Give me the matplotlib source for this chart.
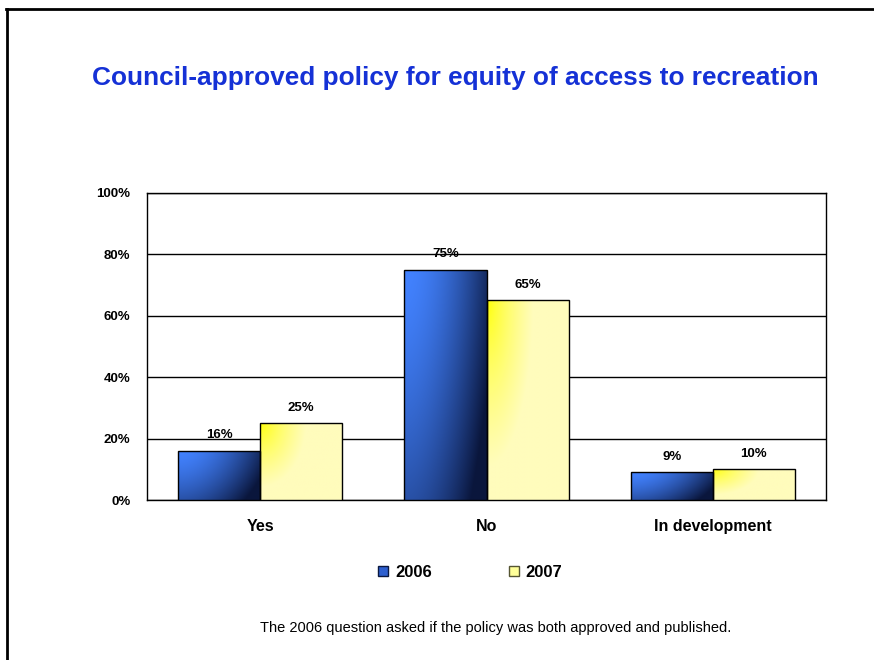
import numpy as np
import matplotlib
matplotlib.use('Agg')
import matplotlib.pyplot as plt
from matplotlib.patches import Patch
from matplotlib.lines import Line2D

plt.rcParams['font.family'] = ['Liberation Sans', 'DejaVu Sans']

# Survey responses (% of councils)
categories = ['Yes', 'No', 'In development']
years = ['2006', '2007']
values_2006 = [16, 75, 9]
values_2007 = [25, 65, 10]
y_ticks = [0, 20, 40, 60, 80, 100]


def blue_grad(h, w):
    x = np.linspace(0, 1, w)[None, :]
    y = np.linspace(0, 1, h)[:, None]
    f = np.clip(0.8 * x**1.8 + 0.45 * y**1.4, 0, 1)
    light = np.array([66, 130, 255]) / 255
    dark = np.array([10, 22, 60]) / 255
    return light + (dark - light) * f[..., None]


def yellow_grad(h, w):
    x = np.linspace(0, 1, w)[None, :]
    y = np.linspace(0, 1, h)[:, None]
    f = np.clip(np.sqrt((1.8 * x)**2 + (1.2 * y)**2), 0, 1)**0.7
    bright = np.array([255, 255, 0]) / 255
    pale = np.array([255, 252, 188]) / 255
    return bright + (pale - bright) * f[..., None]


fig = plt.figure(figsize=(8.74, 6.6), dpi=100)
ax = fig.add_axes([0.1682, 0.2424, 0.7769, 0.4652])

x = np.arange(len(categories))
width = 0.363

for vals, offs, grad in [(values_2006, -width / 2, blue_grad),
                         (values_2007, width / 2, yellow_grad)]:
    bars = ax.bar(x + offs, vals, width, facecolor='none', edgecolor='black',
                  linewidth=1.0, zorder=4)
    for b, v in zip(bars, vals):
        x0 = b.get_x()
        im = ax.imshow(grad(120, 60), extent=[x0, x0 + width, 0, v],
                       aspect='auto', origin='upper', zorder=3,
                       interpolation='bilinear')
        im.set_clip_path(b)
        ax.annotate(f'{v}%', (b.get_x() + width / 2, v), xytext=(0, 7),
                    textcoords='offset points', ha='center', va='bottom',
                    fontsize=9.5, fontweight='bold', zorder=5)

ax.set_xlim(-0.5, 2.5)
ax.set_ylim(0, 100)
ax.set_yticks(y_ticks)
ax.set_yticklabels([f'{t}%' for t in y_ticks], fontsize=9.5, fontweight='bold')
ax.set_xticks(x)
ax.set_xticklabels(categories, fontsize=11.5, fontweight='bold')
ax.tick_params(axis='both', length=0)
ax.tick_params(axis='y', pad=12)
ax.tick_params(axis='x', pad=14)
ax.yaxis.grid(True, color='black', linewidth=1.0)
ax.set_axisbelow(True)
for s in ax.spines.values():
    s.set_linewidth(1.0)

fig.text(0.521, 0.882, 'Council-approved policy for equity of access to recreation',
         ha='center', va='center', fontsize=18.9, fontweight='bold', color='#1531d6')

handles = [Patch(facecolor='#2d5fcf', edgecolor='#0a1840', label='2006'),
           Patch(facecolor='#ffff99', edgecolor='#555533', label='2007')]
fig.legend(handles=handles, loc='center', bbox_to_anchor=(0.538, 0.133), ncol=2,
           frameon=False, prop={'weight': 'bold', 'size': 12},
           handlelength=0.6, handleheight=0.6, handletextpad=0.4,
           columnspacing=4.6)

fig.text(0.567, 0.049, 'The 2006 question asked if the policy was both approved and published.',
         ha='center', va='center', fontsize=10.5)

# page border on left and top
fig.add_artist(Line2D([7, 7], [0, 651], transform=None, color='black', linewidth=2))
fig.add_artist(Line2D([6, 874], [651, 651], transform=None, color='black', linewidth=2))

fig.savefig('out.png', dpi=100)
